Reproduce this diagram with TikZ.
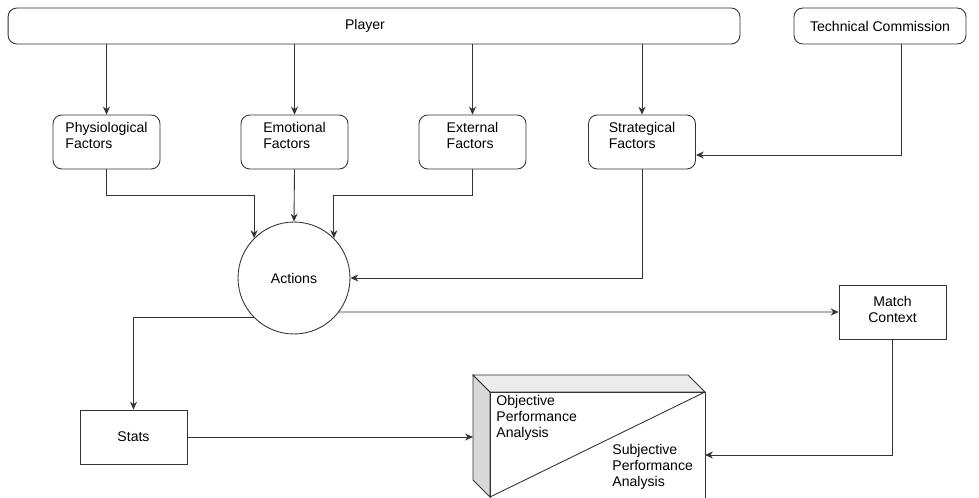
\documentclass[tikz,border=0pt]{standalone}
\usepackage{fontspec}
\setmainfont{Liberation Sans}
\usetikzlibrary{arrows.meta, positioning}
\definecolor{lnGray}{HTML}{333333}
\definecolor{sideGray}{HTML}{D9D9D9}
\definecolor{topGray}{HTML}{ECECEC}

\tikzset{
  every node/.style={font=\fontsize{8}{9.1}\selectfont, text=black},
  factor/.style={draw=lnGray, rounded corners=5pt, minimum width=2.14cm, minimum height=1.08cm, align=left, inner sep=0pt, text depth=7pt},
  plainbox/.style={draw=lnGray, minimum width=2.14cm, minimum height=1.08cm, align=center, inner sep=0pt},
  wide/.style={draw=lnGray, rounded corners=5pt, minimum height=0.72cm, inner sep=0pt},
  link/.style={->, draw=lnGray, line width=0.5pt}
}

\begin{document}
\begin{tikzpicture}[x=0.02cm, y=-0.02cm, >={Stealth[length=4.5pt, width=4pt]}, line width=0.5pt]

\useasboundingbox (0,0) rectangle (979,497);

% Top row
\node[wide, minimum width=14.64cm, label={[xshift=-0.18cm]center:Player}] (player) at (374,26) {};
\node[wide, minimum width=3.44cm] (techcom) at (880,26) {Technical Commission};

% Factors
\node[factor] (physio) at (106.5,142) {Physiological\\Factors};
\node[factor] (emotion) at (294.5,142) {Emotional\\Factors};
\node[factor] (extern) at (472.5,142) {External\\Factors};
\node[factor] (strat) at (642,142) {Strategical\\Factors};

% Actions, stats, context
\node[circle, draw=lnGray, minimum size=2.24cm, inner sep=0pt] (actions) at (294,278) {Actions};
\node[plainbox, text depth=3pt] (match) at (892.5,312) {Match\\Context};
\node[plainbox] (stats) at (133.5,437) {Stats};

% Performance analysis block
\begin{scope}
\clip (0,0) rectangle (979,497);
\fill[sideGray, draw=lnGray] (473,375) -- (490,392) -- (490,497) -- (473,480) -- cycle;
\fill[topGray, draw=lnGray] (473,375) -- (688,375) -- (705,392) -- (490,392) -- cycle;
\draw[lnGray] (490,510) -- (490,392) -- (705,392) -- (705,510);
\draw[lnGray] (705,392) -- (490,497);
\end{scope}
\coordinate (paLeft) at (473,437);
\coordinate (paRight) at (705,455);
\node[anchor=north west, align=left, inner sep=0pt] (objtext) at (496,395) {Objective\\Performance\\Analysis};
\node[anchor=north west, align=left, inner sep=0pt] (subjtext) at (612,444) {Subjective\\Performance\\Analysis};

% Player to factors
\draw[link] (physio.north |- player.south) -- (physio.north);
\draw[link] (emotion.north |- player.south) -- (emotion.north);
\draw[link] (extern.north |- player.south) -- (extern.north);
\draw[link] (strat.north |- player.south) -- (strat.north);
\draw[link] ([xshift=0.42cm]techcom.south) |- ([yshift=-0.26cm]strat.east);

% Factors to actions
\draw[link] (physio.south) -- ++(0,26) -| (actions.north west);
\draw[link] (emotion.south) -- (actions.north);
\draw[link] (extern.south) -- ++(0,26) -| (actions.north east);
\draw[link] (strat.south) |- (actions.east);

% Actions to outputs
\draw[link] (actions.225) -| (stats.north);
\draw[link] (actions.-37) -- (match.west);
\draw[link] (stats.east) -- (paLeft);
\draw[link] (match.south) |- (paRight);

\end{tikzpicture}
\end{document}
